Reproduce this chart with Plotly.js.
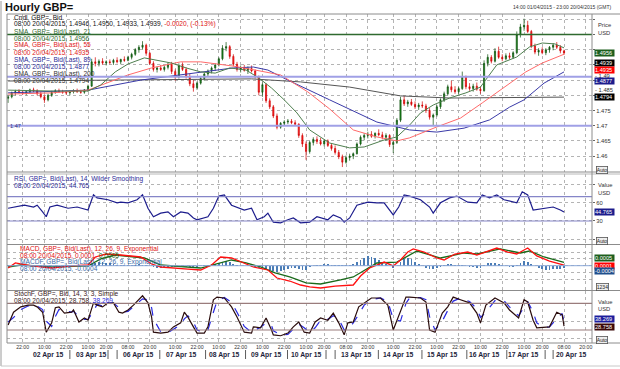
<!DOCTYPE html>
<html><head><meta charset="utf-8">
<script src="https://cdn.plot.ly/plotly-3.0.1.min.js"></script>
<style>html,body{margin:0;padding:0;background:#fff;}#chart{width:620px;height:369px;}</style>
</head><body><div id="chart"></div>
<script>
// ---------- DATA (hour index 0 = 14:00 01 Apr 2015, weekend hours removed) ----------
const candleHour = [
0,2,4,6,8,10,12,14,16,18, 20,22,24,26,28,30,32,34,36,38,
40,42,44,46,48,50,52,54,56,58, 60,62,64,66,68,70,72,74,76,78,
80,82,84,86,88,90,92,94,96,98, 100,102,104,106,108,110,112,114,116,118,
120,122,124,126,128,130,132,134,136,138, 140,142,144,146,148,150,152,154,156,158,
160,162,164,166,168,170,172,174,176,178, 180,182,184,186,188,190,192,194,196,198,
200,202,204,206,208,210,212,214,216,218, 220,222,224,226,228,230,232,234,236,238,
240,242,244,246,248,250,252,254,256,258, 260,262,264,266,268,270,272,274,276,278,
280,282,284,286,288,290,292,294,296,298, 300,302,304,306];
const cOpen = [
1.4790,1.4795,1.4808,1.4812,1.4810,1.4806,1.4812,1.4818,1.4815,1.4805,
1.4795,1.4785,1.4800,1.4810,1.4815,1.4812,1.4810,1.4808,1.4812,1.4815,
1.4812,1.4810,1.4818,1.4830,1.4910,1.4905,1.4912,1.4906,1.4910,1.4908,
1.4915,1.4910,1.4918,1.4915,1.4925,1.4935,1.4950,1.4958,1.4965,1.4938,
1.4905,1.4885,1.4890,1.4885,1.4892,1.4902,1.4878,1.4860,1.4898,1.4885,
1.4862,1.4838,1.4825,1.4840,1.4855,1.4870,1.4880,1.4890,1.4900,1.4920,
1.4955,1.4960,1.4928,1.4902,1.4885,1.4890,1.4882,1.4888,1.4880,1.4860,
1.4810,1.4835,1.4782,1.4762,1.4732,1.4695,1.4708,1.4712,1.4715,1.4710,
1.4705,1.4668,1.4640,1.4615,1.4645,1.4655,1.4648,1.4640,1.4650,1.4635,
1.4625,1.4612,1.4598,1.4580,1.4595,1.4600,1.4608,1.4640,1.4662,1.4668,
1.4672,1.4665,1.4675,1.4670,1.4662,1.4668,1.4638,1.4645,1.4718,1.4785,
1.4772,1.4778,1.4770,1.4762,1.4768,1.4765,1.4750,1.4728,1.4735,1.4762,
1.4785,1.4805,1.4828,1.4818,1.4812,1.4822,1.4860,1.4828,1.4822,1.4830,
1.4820,1.4815,1.4905,1.4925,1.4912,1.4945,1.4925,1.4920,1.4930,1.4925,
1.4940,1.5000,1.5025,1.5030,1.5010,1.4962,1.4942,1.4948,1.4940,1.4950,
1.4958,1.4965,1.4958,1.4946];
const cHigh = [
1.4800,1.4812,1.4818,1.4820,1.4816,1.4815,1.4822,1.4825,1.4820,1.4812,
1.4800,1.4805,1.4815,1.4820,1.4822,1.4818,1.4816,1.4815,1.4820,1.4822,
1.4818,1.4820,1.4835,1.4920,1.4925,1.4918,1.4922,1.4915,1.4918,1.4920,
1.4925,1.4920,1.4928,1.4930,1.4940,1.4955,1.4965,1.4978,1.4970,1.4942,
1.4912,1.4895,1.4900,1.4898,1.4908,1.4910,1.4885,1.4905,1.4908,1.4892,
1.4870,1.4850,1.4845,1.4860,1.4875,1.4885,1.4895,1.4905,1.4925,1.4965,
1.4975,1.4965,1.4935,1.4910,1.4898,1.4900,1.4895,1.4898,1.4885,1.4865,
1.4842,1.4840,1.4790,1.4768,1.4740,1.4712,1.4718,1.4722,1.4722,1.4718,
1.4708,1.4675,1.4648,1.4650,1.4662,1.4665,1.4660,1.4655,1.4655,1.4642,
1.4635,1.4620,1.4605,1.4602,1.4608,1.4612,1.4645,1.4668,1.4675,1.4680,
1.4682,1.4678,1.4688,1.4680,1.4675,1.4672,1.4650,1.4725,1.4795,1.4798,
1.4785,1.4788,1.4780,1.4775,1.4780,1.4772,1.4758,1.4740,1.4768,1.4790,
1.4812,1.4835,1.4848,1.4830,1.4828,1.4878,1.4865,1.4840,1.4838,1.4842,
1.4828,1.4915,1.4935,1.4932,1.4955,1.4960,1.4935,1.4938,1.4940,1.4945,
1.5010,1.5035,1.5052,1.5045,1.5015,1.4970,1.4955,1.4958,1.4955,1.4962,
1.4972,1.4975,1.4965,1.4950];
const cLow = [
1.4775,1.4790,1.4800,1.4805,1.4802,1.4800,1.4808,1.4810,1.4800,1.4790,
1.4775,1.4780,1.4795,1.4805,1.4808,1.4805,1.4802,1.4800,1.4806,1.4808,
1.4805,1.4805,1.4812,1.4828,1.4895,1.4895,1.4900,1.4898,1.4902,1.4900,
1.4905,1.4902,1.4910,1.4912,1.4918,1.4930,1.4940,1.4950,1.4930,1.4900,
1.4878,1.4875,1.4880,1.4878,1.4885,1.4870,1.4848,1.4855,1.4880,1.4855,
1.4830,1.4812,1.4818,1.4835,1.4848,1.4862,1.4872,1.4880,1.4895,1.4915,
1.4945,1.4920,1.4895,1.4878,1.4875,1.4878,1.4870,1.4875,1.4855,1.4800,
1.4795,1.4775,1.4755,1.4725,1.4688,1.4690,1.4700,1.4705,1.4705,1.4700,
1.4660,1.4630,1.4588,1.4608,1.4635,1.4640,1.4635,1.4632,1.4630,1.4618,
1.4605,1.4590,1.4564,1.4575,1.4585,1.4590,1.4605,1.4635,1.4652,1.4658,
1.4660,1.4658,1.4665,1.4655,1.4650,1.4630,1.4610,1.4640,1.4712,1.4765,
1.4762,1.4765,1.4755,1.4752,1.4758,1.4742,1.4720,1.4702,1.4730,1.4755,
1.4778,1.4800,1.4810,1.4805,1.4805,1.4818,1.4820,1.4815,1.4812,1.4815,
1.4805,1.4812,1.4895,1.4905,1.4908,1.4920,1.4912,1.4915,1.4918,1.4920,
1.4935,1.4990,1.5012,1.5005,1.4955,1.4935,1.4930,1.4935,1.4932,1.4940,
1.4948,1.4952,1.4938,1.4933];
const cClose = [
1.4795,1.4808,1.4812,1.4810,1.4806,1.4812,1.4818,1.4815,1.4805,1.4795,
1.4785,1.4800,1.4810,1.4815,1.4812,1.4810,1.4808,1.4812,1.4815,1.4812,
1.4810,1.4818,1.4830,1.4910,1.4905,1.4912,1.4906,1.4910,1.4908,1.4915,
1.4910,1.4918,1.4915,1.4925,1.4935,1.4950,1.4958,1.4965,1.4938,1.4905,
1.4885,1.4890,1.4885,1.4892,1.4902,1.4878,1.4860,1.4898,1.4885,1.4862,
1.4838,1.4825,1.4840,1.4855,1.4870,1.4880,1.4890,1.4900,1.4920,1.4955,
1.4960,1.4928,1.4902,1.4885,1.4890,1.4882,1.4888,1.4880,1.4860,1.4810,
1.4835,1.4782,1.4762,1.4732,1.4695,1.4708,1.4712,1.4715,1.4710,1.4705,
1.4668,1.4640,1.4615,1.4645,1.4655,1.4648,1.4640,1.4650,1.4635,1.4625,
1.4612,1.4598,1.4580,1.4595,1.4600,1.4608,1.4640,1.4662,1.4668,1.4672,
1.4665,1.4675,1.4670,1.4662,1.4668,1.4638,1.4645,1.4718,1.4785,1.4772,
1.4778,1.4770,1.4762,1.4768,1.4765,1.4750,1.4728,1.4735,1.4762,1.4785,
1.4805,1.4828,1.4818,1.4812,1.4822,1.4860,1.4828,1.4822,1.4830,1.4820,
1.4815,1.4905,1.4925,1.4912,1.4945,1.4925,1.4920,1.4930,1.4925,1.4940,
1.5000,1.5025,1.5030,1.5010,1.4962,1.4942,1.4948,1.4940,1.4950,1.4958,
1.4965,1.4958,1.4946,1.4939];

const sma21X = [0,24,44,51,59,66,75,81,90,98,106,114,122,131,138,145,152,159,166,177,188,196,207,214,221,227,234,243,252,260,269,280,287,294,301,306];
const sma21Y = [1.4817,1.4814,1.4814,1.4834,1.4877,1.4903,1.4923,1.4916,1.4906,1.4890,1.4877,1.4873,1.4890,1.4883,1.4857,1.4824,1.4785,1.4742,1.4686,1.4643,1.4627,1.4630,1.4653,1.4663,1.4702,1.4742,1.4768,1.4791,1.4808,1.4827,1.4900,1.4926,1.4959,1.4972,1.4969,1.4956];
const sma55X = [0,24,44,66,79,95,106,124,136,150,165,177,190,203,214,221,236,249,261,276,285,294,306];
const sma55Y = [1.4804,1.4808,1.4817,1.4867,1.4890,1.4910,1.4910,1.4896,1.4883,1.4867,1.4811,1.4755,1.4686,1.4663,1.4650,1.4660,1.4696,1.4725,1.4775,1.4840,1.4877,1.4906,1.4935];
const sma89X = [0,44,73,106,124,135,143,154,166,177,203,221,236,251,265,276,284,295,306];
const sma89Y = [1.4808,1.4817,1.4850,1.4877,1.4890,1.4893,1.4883,1.4850,1.4817,1.4785,1.4712,1.4686,1.4679,1.4692,1.4719,1.4761,1.4785,1.4840,1.4877];
const sma200X = [0,79,134,161,188,216,243,306];
const sma200Y = [1.4847,1.4850,1.4854,1.4844,1.4827,1.4798,1.4791,1.4794];
const priceLevels = [1.5000, 1.4861, 1.4700];

const rsiX = [0,3,9,14,16,19,21,23,27,33,38,44,47,49,55,60,62,66,71,74,77,80,84,88,91,95,99,102,104,110,113,116,119,123,126,130,134,137,141,143,146,150,154,157,161,164,166,170,176,179,183,185,188,192,198,203,207,210,212,215,218,221,227,232,234,238,243,247,253,258,261,265,269,273,280,283,286,289,295,300,304,306];
const rsiY = [51,53,56,53,56,45,37,53,56,51,53,48,73,68,65,60,61,60,65,73,51,37,43,45,37,45,43,35,32,37,51,71,73,56,53,48,51,32,37,43,28,27,32,35,27,28,28,37,32,40,35,28,35,56,61,60,60,48,40,53,73,71,65,53,43,60,68,71,61,60,73,68,73,65,60,78,73,48,51,53,48,44.765];

const macdX = [0,4,13,24,35,44,48,54,62,73,79,84,99,106,112,117,123,128,135,143,148,155,161,166,172,180,190,194,199,207,212,216,220,223,229,236,240,246,253,258,264,269,275,280,286,291,298,306];
const macdY = [-0.00034,0.00040,-0.00004,-0.00034,-0.00004,0.00010,0.00128,0.00172,0.00157,0.00128,0.00025,-0.00019,-0.00049,-0.00063,0.00010,0.00128,0.00113,0.00054,-0.00019,-0.00063,-0.00181,-0.00225,-0.00284,-0.00313,-0.00328,-0.00299,-0.00284,-0.00151,-0.00034,0.00054,-0.00004,0.00084,0.00201,0.00246,0.00201,0.00113,0.00084,0.00172,0.00201,0.00157,0.00216,0.00260,0.00201,0.00172,0.00260,0.00143,0.00069,0.00010];
const signalX = [0,7,24,44,51,59,75,84,106,114,123,131,139,147,155,164,172,183,190,203,214,225,238,251,258,271,282,287,295,306];
const signalY = [-0.00019,0.00010,-0.00019,-0.00004,0.00099,0.00157,0.00113,0.00010,-0.00034,0.00025,0.00084,0.00040,-0.00019,-0.00107,-0.00166,-0.00254,-0.00269,-0.00210,-0.00166,0.00040,0.00054,0.00216,0.00113,0.00187,0.00172,0.00246,0.00187,0.00216,0.00128,0.00050];
const macdHist = [
0.00005,0.00008,0.00006,0.00002,-0.00002,-0.00004,-0.00003,0,0.00002,0.00003,
0.00001,-0.00002,-0.00003,-0.00002,0,0.00002,0.00003,0.00002,0,-0.00001,
-0.00002,-0.00001,0.00001,0.00020,0.00045,0.00060,0.00055,0.00045,0.00035,0.00025,
0.00015,0.00010,0.00005,0.00005,0.00010,0.00015,0.00018,0.00015,0.00005,-0.00010,
-0.00025,-0.00030,-0.00030,-0.00025,-0.00015,-0.00015,-0.00025,-0.00010,-0.00005,-0.00015,
-0.00025,-0.00030,-0.00020,-0.00005,0.00005,0.00015,0.00025,0.00030,0.00040,0.00060,
0.00070,0.00050,0.00030,0.00010,0,-0.00005,-0.00010,-0.00015,-0.00025,-0.00040,
-0.00035,-0.00050,-0.00065,-0.00080,-0.00090,-0.00075,-0.00060,-0.00045,-0.00035,-0.00030,
-0.00045,-0.00060,-0.00070,-0.00020,0,0.00010,0.00015,0.00020,0.00020,0.00015,
0.00015,0.00010,0.00005,0.00010,0.00015,0.00020,0.00050,0.00090,0.00120,0.00140,
0.00130,0.00110,0.00090,0.00060,0.00030,-0.00010,-0.00030,-0.00010,0.00050,0.00100,
0.00120,0.00100,0.00060,0.00020,-0.00010,-0.00030,-0.00045,-0.00050,-0.00035,-0.00015,
0.00005,0.00020,0.00025,0.00015,0.00005,0.00015,-0.00005,-0.00015,-0.00025,-0.00030,
-0.00035,0.00010,0.00035,0.00040,0.00040,0.00030,0.00005,-0.00010,-0.00020,-0.00025,
0.00005,0.00040,0.00065,0.00060,0.00030,-0.00005,-0.00030,-0.00050,-0.00060,-0.00065,
-0.00055,-0.00050,-0.00045,-0.00040];

const stochX = [0,3,7,11,14,16,19,21,24,26,28,31,35,36,39,42,44,47,49,52,55,58,61,63,66,69,74,77,79,80,84,88,91,95,97,99,102,104,108,110,113,115,119,123,126,130,134,135,139,142,145,146,150,154,157,160,163,166,169,172,176,179,182,185,187,190,193,196,200,205,209,212,216,219,221,227,230,232,235,239,242,245,249,254,258,260,263,268,273,276,281,284,286,289,291,295,298,302,305,306];
const stochK = [31,60,72,76,76,72,60,15,36,70,72,58,60,65,38,47,42,81,76,72,81,81,60,58,65,76,97,81,49,15,13,15,27,36,60,49,27,13,13,27,88,94,92,72,49,15,13,27,25,47,20,9,7,13,27,38,15,13,38,47,42,58,36,9,36,38,72,81,92,92,76,20,60,94,94,92,83,20,15,58,72,94,88,81,58,36,76,92,81,65,47,88,83,42,25,27,27,60,54,28.758];
const stochD = [38,48,66,74,76,74,66,40,28,50,66,64,60,62,50,44,44,62,78,74,78,81,70,60,62,72,90,88,70,45,16,14,22,32,45,52,38,20,14,20,60,85,93,82,60,28,15,18,26,36,30,18,9,10,22,33,25,15,25,42,44,52,45,20,22,36,55,76,88,92,84,45,40,80,92,93,88,50,20,40,64,85,92,84,68,48,60,86,86,72,52,70,84,60,36,26,27,45,57,38.269];

const timeTickHour = [8,20,32,44,54,66,78,92,104,116,128,140,152,164,174,186,198,212,224,236,248,260,272,284,294,306,318];
const timeTickText = ["22:00","10:00","22:00","10:00","20:00","08:00","20:00","10:00","22:00","10:00","22:00","10:00","22:00","10:00","20:00","08:00","20:00","10:00","22:00","10:00","22:00","10:00","22:00","10:00","20:00","08:00","20:00"];
const dateLabels = ["02 Apr 15","03 Apr 15","06 Apr 15","07 Apr 15","08 Apr 15","09 Apr 15","10 Apr 15","13 Apr 15","14 Apr 15","15 Apr 15","16 Apr 15","17 Apr 15","20 Apr 15"];
const dateLabelHour = [22,46,72,95.5,119,142,164.5,191.7,215,239,262,283.5,310];
const daySepHour = [34,55,60,83.5,108.7,130.7,153.8,175,180,203.8,227.8,252.5,274.5,295.6,300];
const priceTicks = [1.46,1.465,1.47,1.475,1.48,1.485,1.49,1.495,1.5,1.505];
const priceTickText = ["1.46","1.465","1.47","1.475","","","","","",""];

// ---------- LAYOUT HELPERS ----------
const W=620,H=369,ML=7,MR=28,MT=14,MB=26;
const PW=W-ML-MR, PH=H-MT-MB;
const px2x = p => (p-ML)/PW;
const px2y = p => (H-MB-p)/PH;
const FONT = 'Liberation Sans, Arial, sans-serif';

function txt(text, xpx, ypx, size, color, extra){
  return Object.assign({xref:'paper',yref:'paper',x:px2x(xpx),y:px2y(ypx),text:text,showarrow:false,
    xanchor:'left',yanchor:'middle',font:{family:FONT,size:size,color:color}}, extra||{});
}
function hline(ypx,x0,x1,color,w){return {type:'line',xref:'paper',yref:'paper',x0:px2x(x0),x1:px2x(x1),y0:px2y(ypx),y1:px2y(ypx),line:{color:color,width:w}};}
function vline(xpx,y0,y1,color,w){return {type:'line',xref:'paper',yref:'paper',x0:px2x(xpx),x1:px2x(xpx),y0:px2y(y0),y1:px2y(y1),line:{color:color,width:w}};}
function box(text, yref, yval, yshift, bg, fg){
  return {xref:'paper',x:1+1.5/PW,xanchor:'left',yref:yref,y:yval,yshift:yshift,yanchor:'middle',text:text,showarrow:false,
    bgcolor:bg,borderpad:0,width:19,align:'left',font:{family:FONT,size:5.6,color:fg||'#fff'}};
}

const traces = [
  {type:'candlestick',x:candleHour,open:cOpen,high:cHigh,low:cLow,close:cClose,xaxis:'x',yaxis:'y',
   increasing:{line:{color:'#0b4f0b',width:0.7},fillcolor:'#1f8f1f'},
   decreasing:{line:{color:'#d00000',width:0.7},fillcolor:'#ff2020'},whiskerwidth:0,hoverinfo:'skip'},
  {type:'scatter',mode:'lines',x:sma200X,y:sma200Y,yaxis:'y',line:{color:'#555555',width:1},hoverinfo:'skip'},
  {type:'scatter',mode:'lines',x:sma89X,y:sma89Y,yaxis:'y',line:{color:'#3a3aa8',width:1},hoverinfo:'skip'},
  {type:'scatter',mode:'lines',x:sma55X,y:sma55Y,yaxis:'y',line:{color:'#ff6a6a',width:1},hoverinfo:'skip'},
  {type:'scatter',mode:'lines',x:sma21X,y:sma21Y,yaxis:'y',line:{color:'#4f7f4f',width:1},hoverinfo:'skip'},
  {type:'scatter',mode:'lines',x:rsiX,y:rsiY,yaxis:'y2',line:{color:'#1c1c8c',width:1.2},hoverinfo:'skip'},
  {type:'bar',x:candleHour,y:macdHist,yaxis:'y3',marker:{color:'#4a7cb5',line:{width:0}},width:1.0,hoverinfo:'skip'},
  {type:'scatter',mode:'lines',x:signalX,y:signalY,yaxis:'y3',line:{color:'#1a6a1a',width:1.3},hoverinfo:'skip'},
  {type:'scatter',mode:'lines',x:macdX,y:macdY,yaxis:'y3',line:{color:'#ff1010',width:1.3},hoverinfo:'skip'},
  {type:'scatter',mode:'lines',x:stochX,y:stochD,yaxis:'y4',line:{color:'#2a2ae0',width:1.2,dash:'dash'},hoverinfo:'skip'},
  {type:'scatter',mode:'lines',x:stochX,y:stochK,yaxis:'y4',line:{color:'#2a0c0c',width:1.2},hoverinfo:'skip'}
];

const gridStyle = {showgrid:true,gridcolor:'#b4b4b4',griddash:'dot',gridwidth:1,zeroline:false,showline:false};
const yCommon = Object.assign({side:'right',anchor:'x',ticks:'outside',ticklen:2,tickcolor:'#666',
  tickfont:{family:FONT,size:5.8,color:'#333'},fixedrange:true}, gridStyle);

const shapes = [];
shapes.push({type:'line',xref:'paper',x0:0,x1:1,yref:'y',y0:priceLevels[0],y1:priceLevels[0],line:{color:'#2f6a2f',width:1.4}});
shapes.push({type:'line',xref:'paper',x0:0,x1:1,yref:'y',y0:priceLevels[1],y1:priceLevels[1],line:{color:'#a0a0e6',width:2}});
shapes.push({type:'line',xref:'paper',x0:0,x1:1,yref:'y',y0:priceLevels[2],y1:priceLevels[2],line:{color:'#a0a0e6',width:2}});
[30,70].forEach(v=>shapes.push({type:'line',xref:'paper',x0:0,x1:1,yref:'y2',y0:v,y1:v,line:{color:'#8585c8',width:1.2}}));
shapes.push({type:'line',xref:'paper',x0:0,x1:1,yref:'y3',y0:0,y1:0,line:{color:'#8aa8d8',width:1}});
[20,80].forEach(v=>shapes.push({type:'line',xref:'paper',x0:0,x1:1,yref:'y4',y0:v,y1:v,line:{color:'#9a7c7c',width:1.2}}));
const fc='#8c8c8c';
shapes.push(hline(14,ML,W,fc,1));
shapes.push(hline(172,ML,W,fc,1));
shapes.push(hline(174,ML,W,'#b8b8b8',1));
shapes.push(hline(244.5,ML,W,fc,1));
shapes.push(hline(290.5,ML,W,fc,1));
shapes.push(hline(343,ML,W,fc,1));
shapes.push(vline(ML,14,343,fc,1));
shapes.push(vline(ML+PW,14,343,fc,1));
shapes.push(vline(1,1,366,'#9a9a9a',1));
shapes.push(hline(366,1,W,'#c8c8c8',1));
daySepHour.forEach(h=>shapes.push({type:'line',xref:'x',x0:h,x1:h,yref:'paper',y0:px2y(350),y1:px2y(359),line:{color:'#333',width:0.8}}));

const annotations = [];
annotations.push(txt('<b>Hourly GBP=</b>',3,7.5,11,'#111'));
annotations.push(txt('14:00 01/04/2015 - 23:00 20/04/2015 (GMT)',613,7.5,5,'#333',{xanchor:'right'}));
const legSize=6.6;
const leg = [
 ['Cndl, GBP=, Bid','#111'],
 ['08:00 20/04/2015, 1.4946, 1.4950, 1.4933, 1.4939, <span style="color:#e01010">-0.0020, (-0.13%)</span>','#111'],
 ['SMA, GBP=, Bid(Last), 21','#2f6a2f'],['08:00 20/04/2015, 1.4956','#2f6a2f'],
 ['SMA, GBP=, Bid(Last), 55','#e02020'],['08:00 20/04/2015, 1.4935','#e02020'],
 ['SMA, GBP=, Bid(Last), 89','#2a2a96'],['08:00 20/04/2015, 1.4877','#2a2a96'],
 ['SMA, GBP=, Bid(Last), 200','#333'],['08:00 20/04/2015, 1.4794','#333']];
leg.forEach((l,k)=>annotations.push(txt(l[0],12,17.5+7*k,legSize,l[1])));
annotations.push(txt('RSI, GBP=, Bid(Last), 14, Wilder Smoothing',12,178.5,legSize,'#2a2a96'));
annotations.push(txt('08:00 20/04/2015, 44.765',12,185.2,legSize,'#2a2a96'));
annotations.push(txt('MACD, GBP=, Bid(Last), 12, 26, 9, Exponential',18,248.5,legSize,'#e01010'));
annotations.push(txt('08:00 20/04/2015, 0.0001, <span style="color:#1a6a1a">0.0005</span>',18,255.2,legSize,'#e01010'));
annotations.push(txt('MACDF, GBP=, Bid(Last), 12, 26, 9, Exponential',18,261.9,legSize,'#3a6aa8'));
annotations.push(txt('08:00 20/04/2015, -0.0004',18,268.6,legSize,'#3a6aa8'));
annotations.push(txt('StochF, GBP=, Bid, 14, 3, 3, Simple',12,294,legSize,'#3a1a1a'));
annotations.push(txt('08:00 20/04/2015, 28.758, <span style="color:#2a2ae0">38.269</span>',12,300.7,legSize,'#3a1a1a'));
annotations.push({xref:'paper',x:px2x(8),xanchor:'left',yref:'y',y:priceLevels[2],text:'1.47',showarrow:false,font:{family:FONT,size:5.6,color:'#2a2a80'}});
annotations.push(txt('Price',596,25,5.8,'#333'));
annotations.push(txt('USD',596,32.5,5.8,'#333'));
annotations.push(txt('- 1.49',593,75.5,5.8,'#333'));
annotations.push(txt('- 1.485',593,90,5.8,'#333'));
annotations.push(txt('Value',596,185,5.8,'#333'));
annotations.push(txt('USD',596,193,5.8,'#333'));
annotations.push(txt('Value',596,301.7,5.8,'#333'));
annotations.push(txt('USD',596,309,5.8,'#333'));
const btn = (t,y)=>txt(t,596,y,5,'#222',{bgcolor:'#eeeeee',bordercolor:'#555',borderwidth:0.8,borderpad:0});
annotations.push(btn('Auto',169.5)); annotations.push(btn('Auto',240.5));
annotations.push(btn('1234',287)); annotations.push(btn('Auto',340));
annotations.push(box('1.4956','y',sma21Y[sma21Y.length-1],-5,'#1d5e1d'));
annotations.push(box('1.4939','y',cClose[cClose.length-1],-10,'#000000'));
annotations.push(box('1.4935','y',sma55Y[sma55Y.length-1],-15.5,'#ff0000'));
annotations.push(box('1.4877','y',sma89Y[sma89Y.length-1],-9.6,'#1c1c8c'));
annotations.push(box('1.4794','y',sma200Y[sma200Y.length-1],0,'#000000'));
annotations.push(box('44.765','y2',rsiY[rsiY.length-1],0,'#1c1c8c'));
annotations.push(box('0.0005','y3',signalY[signalY.length-1],4.6,'#1d5e1d'));
annotations.push(box('0.0001','y3',macdY[macdY.length-1],-0.5,'#ff0000'));
annotations.push(box('-0.0004','y3',macdHist[macdHist.length-1],-3,'#1f4e8c'));
annotations.push(box('38.269','y4',stochD[stochD.length-1],2.6,'#1c1c9c'));
annotations.push(box('28.758','y4',stochK[stochK.length-1],-0.5,'#3a0808'));
dateLabels.forEach((d,k)=>annotations.push({xref:'x',x:dateLabelHour[k],yref:'paper',y:px2y(355),text:'<b>'+d+'</b>',
  showarrow:false,xanchor:'center',yanchor:'middle',font:{family:FONT,size:6.8,color:'#1e1e3c'}}));

const layout = {
  width:W,height:H,margin:{l:ML,r:MR,t:MT,b:MB,pad:0},
  paper_bgcolor:'#ffffff',plot_bgcolor:'#ffffff',showlegend:false,bargap:0,boxgap:0.55,
  font:{family:FONT},
  xaxis: Object.assign({domain:[0,1],range:[-0.6,321.4],anchor:'y4',tickmode:'array',tickvals:timeTickHour,ticktext:timeTickText,
    ticks:'',tickfont:{family:FONT,size:5.2,color:'#333'},rangeslider:{visible:false},fixedrange:true}, gridStyle),
  yaxis: Object.assign({}, yCommon, {domain:[px2y(172),1],range:[1.45477,1.50674],tickmode:'array',tickvals:priceTicks,ticktext:priceTickText}),
  yaxis2: Object.assign({}, yCommon, {domain:[px2y(244),px2y(174)],range:[-7.9,107.4],tickmode:'array',tickvals:[0,30,60,90],ticktext:['','30','60','']}),
  yaxis3: Object.assign({}, yCommon, {domain:[px2y(290),px2y(245)],range:[-0.003574,0.003044],tickmode:'array',tickvals:[-0.002,-0.001,0,0.001,0.002],ticktext:['','','','',''],ticks:''}),
  yaxis4: Object.assign({}, yCommon, {domain:[0,px2y(291)],range:[-9.3,107.7],tickmode:'array',tickvals:[0,40,80],ticktext:['','',''],ticks:''}),
  shapes:shapes, annotations:annotations
};
Plotly.newPlot('chart',traces,layout,{staticPlot:true,displayModeBar:false});
</script></body></html>
